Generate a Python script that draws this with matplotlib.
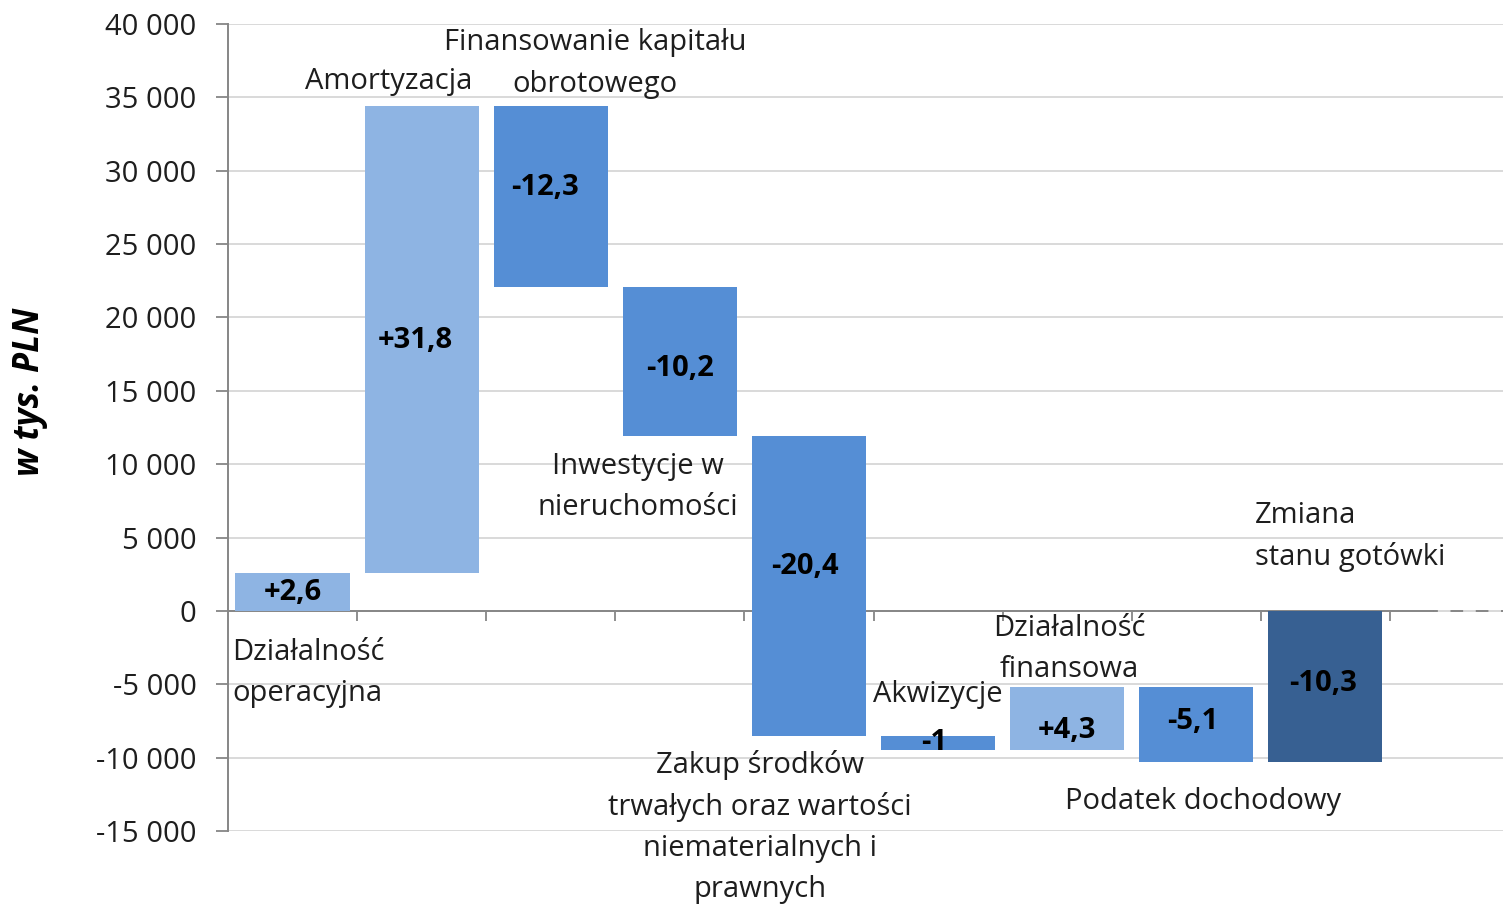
import matplotlib
matplotlib.use("Agg")
import matplotlib.pyplot as plt
from matplotlib.ticker import FuncFormatter, FixedLocator
import numpy as np

# ---------------- data ----------------
categories = [
    "Działalność\noperacyjna",
    "Amortyzacja",
    "Finansowanie kapitału\nobrotowego",
    "Inwestycje w\nnieruchomości",
    "Zakup środków\ntrwałych oraz wartości\nniematerialnych i\nprawnych",
    "Akwizycje",
    "Działalność\nfinansowa",
    "Podatek dochodowy",
    "Zmiana\nstanu gotówki",
]
changes = [2600, 31800, -12300, -10200, -20400, -1000, 4300, -5100]
total_change = -10300
value_labels = ["+2,6", "+31,8", "-12,3", "-10,2", "-20,4", "-1", "+4,3", "-5,1", "-10,3"]
y_ticks = list(range(-15000, 40001, 5000))
y_label = "w tys. PLN"

# ---------------- styling ----------------
plt.rcParams["font.family"] = ["Open Sans", "DejaVu Sans"]
W, H, DPI = 1503, 905, 100
c_pos, c_neg, c_tot = "#8EB4E3", "#558ED5", "#376092"
grid_c, axis_c, text_c = "#D9D9D9", "#868686", "#1E1E1E"

# category label placement (pixel offsets from bar edge / category centre)
label_anchor = ["bottom", "top", "top", "bottom", "bottom", "top", "top", "bottom", "top"]
label_dx = [-60.5, -33, 44, -42, -49, 0, 2, 7, -70]
label_dy = [-58.5, 28, 46, -47, -88.5, 45, 41.5, -36, 78]
label_ha = ["left", "center", "center", "center", "center", "center", "center", "center", "left"]
line_step = 41.5  # px between label lines
# value label fine offsets (px, positive = up)
value_dx = [0, -6, -6, 0, -4, -4, 0, -4, -2]
value_dy = [-1, -1, 9, -7, 19, 0, -12, 3, 3]

fig = plt.figure(figsize=(W / DPI, H / DPI), dpi=DPI)
ax_left, ax_right, ax_top, ax_bot = 228, 1503, 24, 831
ax = fig.add_axes([ax_left / W, 1 - ax_bot / H, (ax_right - ax_left) / W, (ax_bot - ax_top) / H])

# waterfall geometry
ends = np.cumsum(changes)
starts = np.concatenate([[0], ends[:-1]])
bottoms = list(starts) + [0]
heights = list(changes) + [total_change]
colors = [c_pos if v > 0 else c_neg for v in changes] + [c_tot]
x = np.arange(len(categories))

ax.bar(x, heights, bottom=bottoms, width=0.885, color=colors, zorder=3)

cat_px = 129.1
ax.set_xlim(-0.5, -0.5 + (ax_right - ax_left) / cat_px)
ax.set_ylim(y_ticks[0], y_ticks[-1])

# grid
ax.yaxis.set_major_locator(FixedLocator(y_ticks))
ax.yaxis.grid(True, color=grid_c, linewidth=1.4, zorder=0)
ax.set_axisbelow(True)
ax.yaxis.set_major_formatter(FuncFormatter(lambda v, p: f"{int(round(v)):,}".replace(",", " ")))
ax.tick_params(axis="y", direction="out", length=8.6, width=1.3, color=axis_c,
               labelsize=21, labelcolor=text_c, pad=14)

# x axis at zero
for s in ["top", "right"]:
    ax.spines[s].set_visible(False)
ax.spines["left"].set_color(axis_c)
ax.spines["left"].set_linewidth(1.4)
ax.spines["bottom"].set_position(("data", 0))
ax.spines["bottom"].set_color(axis_c)
ax.spines["bottom"].set_linewidth(1.4)
solid_end = (1433 - ax_left) / cat_px - 0.5
ax.spines["bottom"].set_bounds(-0.5, solid_end)
xmin, xmax = ax.get_xlim()
ax.axhline(0, xmin=(solid_end - xmin) / (xmax - xmin), xmax=1, color=axis_c,
           linewidth=1.4, linestyle=(4, (6.5, 6.5)), zorder=2)
ax.xaxis.set_major_locator(FixedLocator(list(np.arange(0.5, len(categories), 1.0))))
ax.tick_params(axis="x", direction="out", length=7.5, width=1.3, color=axis_c, labelbottom=False)

# value labels
for i, (b, h, t) in enumerate(zip(bottoms, heights, value_labels)):
    ax.annotate(t, xy=(i, b + h / 2), xytext=(value_dx[i], value_dy[i]), textcoords="offset pixels",
                ha="center", va="center", fontsize=21, fontweight="bold",
                color="#000000", zorder=5)

# category labels (one text per line, fixed line step)
for i, (b, h, name) in enumerate(zip(bottoms, heights, categories)):
    top = max(b, b + h)
    bot = min(b, b + h)
    edge = top if label_anchor[i] == "top" else bot
    lines = name.split("\n")
    n = len(lines)
    for k, line in enumerate(lines):
        dy = label_dy[i] + (n - 1) / 2 * line_step - k * line_step
        ax.annotate(line, xy=(i, edge), xytext=(label_dx[i], dy), textcoords="offset pixels",
                    ha=label_ha[i], va="center_baseline", fontsize=21, color=text_c,
                    zorder=6, annotation_clip=False)

fig.text(30 / W, 1 - 392 / H, y_label, rotation=90, ha="center", va="center",
         fontsize=25, fontweight="bold", fontstyle="italic", color="#000000")

fig.savefig("out.png", dpi=DPI)
